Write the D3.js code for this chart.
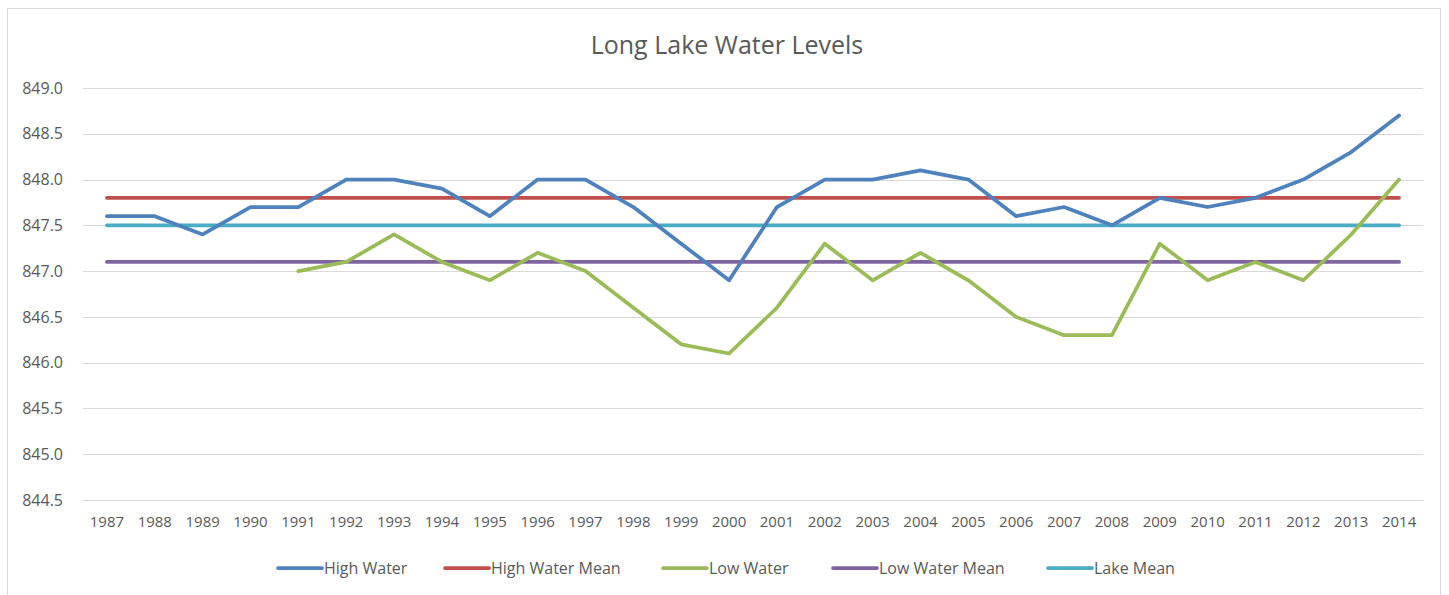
<!DOCTYPE html>
<html>
<head>
<meta charset="utf-8">
<script src="https://cdn.jsdelivr.net/npm/d3@7.9.0/dist/d3.min.js"></script>
<style>
  body { margin: 0; background: #fff; }
  svg { display: block; font-family: "Open Sans", sans-serif; }
</style>
</head>
<body>
<svg width="1449" height="595"></svg>
<script>
const years = ['1987','1988','1989','1990','1991','1992','1993','1994','1995','1996','1997','1998','1999','2000',
               '2001','2002','2003','2004','2005','2006','2007','2008','2009','2010','2011','2012','2013','2014'];

const highWater = [847.6, 847.6, 847.4, 847.7, 847.7, 848.0, 848.0, 847.9, 847.6, 848.0, 848.0, 847.7, 847.3, 846.9,
                   847.7, 848.0, 848.0, 848.1, 848.0, 847.6, 847.7, 847.5, 847.8, 847.7, 847.8, 848.0, 848.3, 848.7];

// low water has no readings before 1991
const lowWater = [null, null, null, null, 847.0, 847.1, 847.4, 847.1, 846.9, 847.2, 847.0, 846.6, 846.2, 846.1,
                  846.6, 847.3, 846.9, 847.2, 846.9, 846.5, 846.3, 846.3, 847.3, 846.9, 847.1, 846.9, 847.4, 848.0];

const highWaterMean = 847.8;
const lowWaterMean = 847.1;
const lakeMean = 847.5;

const yTicks = [844.5, 845.0, 845.5, 846.0, 846.5, 847.0, 847.5, 848.0, 848.5, 849.0];

const series = [
  { name: 'High Water',      color: '#4f81bd', values: highWater },
  { name: 'High Water Mean', color: '#c0504d', values: years.map(() => highWaterMean) },
  { name: 'Low Water',       color: '#9bbb59', values: lowWater },
  { name: 'Low Water Mean',  color: '#8064a2', values: years.map(() => lowWaterMean) },
  { name: 'Lake Mean',       color: '#4bacc6', values: years.map(() => lakeMean) }
];

// draw order: means behind the data lines like in the original
const drawOrder = [1, 3, 4, 0, 2];

const svg = d3.select('svg');

// chart border
svg.append('rect')
    .attr('x', 7.5).attr('y', 8.5)
    .attr('width', 1433).attr('height', 620)
    .attr('fill', '#fff')
    .attr('stroke', '#d9d9d9');

const plot = { left: 83, right: 1423, top: 88, bottom: 500 };

const x = d3.scaleBand()
    .domain(years)
    .range([plot.left, plot.right]);

const y = d3.scaleLinear()
    .domain([844.5, 849.0])
    .range([plot.bottom, plot.top]);

// title
svg.append('text')
    .attr('x', 727).attr('y', 54)
    .attr('text-anchor', 'middle')
    .attr('fill', '#595959')
    .style('font-size', '25px')
    .text('Long Lake Water Levels');

// gridlines
svg.append('g')
    .selectAll('line')
    .data(yTicks)
    .join('line')
    .attr('x1', plot.left).attr('x2', plot.right)
    .attr('y1', d => Math.round(y(d)) + 0.5)
    .attr('y2', d => Math.round(y(d)) + 0.5)
    .attr('stroke', '#d9d9d9');

// y axis labels
const yAxis = svg.append('g')
    .attr('transform', `translate(${plot.left},0)`)
    .call(d3.axisLeft(y).tickValues(yTicks).tickFormat(d3.format('.1f')).tickSize(0).tickPadding(20));
yAxis.select('.domain').remove();
yAxis.selectAll('text')
    .attr('fill', '#595959')
    .style('font-size', '16px')
    .style('font-family', '"Open Sans", sans-serif');

// x axis labels
const xAxis = svg.append('g')
    .attr('transform', `translate(0,${plot.bottom})`)
    .call(d3.axisBottom(x).tickSize(0).tickPadding(16));
xAxis.select('.domain').remove();
xAxis.selectAll('text')
    .attr('fill', '#595959')
    .style('font-size', '15px')
    .style('font-family', '"Open Sans", sans-serif');

// lines
const line = d3.line()
    .defined(d => d != null)
    .x((d, i) => x(years[i]) + x.bandwidth() / 2)
    .y(d => y(d));

drawOrder.forEach(idx => {
    const s = series[idx];
    svg.append('path')
        .attr('d', line(s.values))
        .attr('fill', 'none')
        .attr('stroke', s.color)
        .attr('stroke-width', 3.75)
        .attr('stroke-linejoin', 'round')
        .attr('stroke-linecap', 'round');
});

// legend
const legendX = [278, 445, 663, 833, 1048];
const legend = svg.append('g');
series.forEach((s, i) => {
    const g = legend.append('g').attr('transform', `translate(${legendX[i]},568)`);
    g.append('line')
        .attr('x1', 0).attr('x2', 44)
        .attr('stroke', s.color)
        .attr('stroke-width', 3.75)
        .attr('stroke-linecap', 'round');
    g.append('text')
        .attr('x', 46).attr('dy', '0.35em')
        .attr('fill', '#595959')
        .style('font-size', '16px')
        .text(s.name);
});
</script>
</body>
</html>
